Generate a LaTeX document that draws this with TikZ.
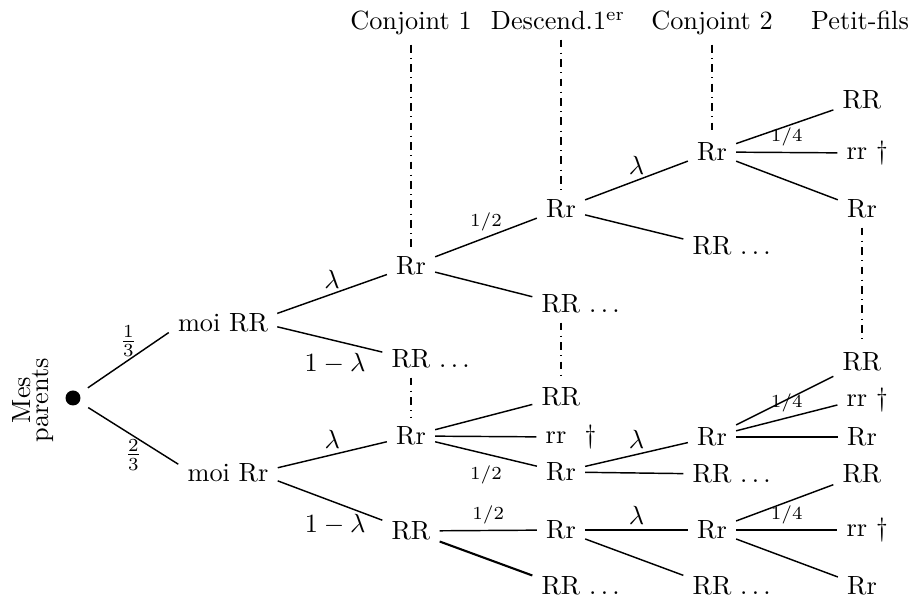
\documentclass[tikz,border=0pt]{standalone}
\begin{document}
\begin{tikzpicture}[x=0.38pt,y=-0.38pt,
  br/.style={draw,line width=0.55pt},
  thk/.style={draw,line width=0.8pt},
  dd/.style={draw,dashdotted,line width=0.5pt},
  lam/.style={inner sep=2pt},
  fr/.style={inner sep=2pt,font=\scriptsize},
  hd/.style={anchor=base}]
\useasboundingbox (0,0) rectangle (915,598);
% headers
\node[hd] (h1) at (411,30) {Conjoint 1};
\node[hd] (h2) at (558,30) {Descend.1$^{\rm er}$};
\node[hd] (h3) at (712,30) {Conjoint 2};
\node[hd] (h4) at (860,30) {Petit-fils};
% root
\node[rotate=90,align=center] (mp) at (33,400) {Mes\\[-5pt]parents};
\node[circle,fill,inner sep=0pt,minimum size=5.7pt,outer sep=4pt] (root) at (73,398) {};
% level 1
\node (m1) at (223,323) {moi RR};
\node (m2) at (228,473) {moi Rr};
% level 2
\node (a) at (411,266) {Rr};
\node (b) at (411,359) {RR\rlap{\ $\ldots$}};
\node (c) at (411,436) {Rr};
\node (d) at (411,531) {RR};
% level 3
\node (a1) at (561,209) {Rr};
\node (a2) at (561,304) {RR\rlap{\ $\ldots$}};
\node (c1) at (561,397) {RR};
\node (c2) at (556,437) {rr\rlap{\hspace{7pt}\dag}};
\node (c3) at (561,472) {Rr};
\node (d1) at (561,530) {Rr};
\node (d2) at (561,586) {RR\rlap{\ $\ldots$}};
% level 4
\node (a11) at (712,152) {Rr};
\node (a12) at (712,246) {RR\rlap{\ $\ldots$}};
\node (c31) at (712,437) {Rr};
\node (c32) at (712,474) {RR\rlap{\ $\ldots$}};
\node (d11) at (712,530) {Rr};
\node (d12) at (712,586) {RR\rlap{\ $\ldots$}};
% level 5
\node (a111) at (862,100) {RR};
\node (a112) at (857,153) {rr\rlap{\ \dag}};
\node (a113) at (862,209) {Rr};
\node (c311) at (862,362) {RR};
\node (c312) at (857,400) {rr\rlap{\ \dag}};
\node (c313) at (862,437) {Rr};
\node (d111) at (862,474) {RR};
\node (d112) at (857,530) {rr\rlap{\ \dag}};
\node (d113) at (862,586) {Rr};
% edges
\draw[br] (root) -- node[above,inner sep=1pt]{$\frac{1}{3}$} (m1.190);
\draw[br] (root) -- node[below,inner sep=1pt]{$\frac{2}{3}$} (m2.170);
\draw[br] (m1.10) -- node[lam,above]{$\lambda$} (a);
\draw[br] (m1.-4) -- node[pos=0.55,below=1pt]{$1-\lambda$} (b);
\draw[br] (m2.6) -- node[lam,above]{$\lambda$} (c);
\draw[br] (m2.-9) -- node[pos=0.55,below=1pt]{$1-\lambda$} (d);
\draw[br] (a) -- node[fr,above]{$1/2$} (a1);
\draw[br] (a) -- (a2);
\draw[br] (a1) -- node[lam,above]{$\lambda$} (a11);
\draw[br] (a1) -- (a12);
\draw[br] (a11) -- (a111);
\draw[br] (a11) -- node[fr,above]{$1/4$} (a112);
\draw[br] (a11) -- (a113);
\draw[br] (c) -- (c1);
\draw[br] (c) -- (c2);
\draw[br] (c) -- node[fr,below=2pt]{$1/2$} (c3);
\draw[br] (c3) -- node[lam,above]{$\lambda$} (c31);
\draw[br] (c3) -- (c32);
\draw[br] (c31) -- (c311);
\draw[br] (c31) -- node[fr,above]{$1/4$} (c312);
\draw[br] (c31) -- (c313);
\draw[br] (d) -- node[fr,above]{$1/2$} (d1);
\draw[thk] (d) -- (d2);
\draw[br] (d1) -- node[lam,above]{$\lambda$} (d11);
\draw[br] (d1) -- (d12);
\draw[br] (d11) -- (d111);
\draw[br] (d11) -- node[fr,above]{$1/4$} (d112);
\draw[br] (d11) -- (d113);
% dash-dot guides
\draw[dd] (h1.south -| a) -- (a);
\draw[dd] (b) -- (c);
\draw[dd] (h2.south -| a1) -- (a1);
\draw[dd] (a2) -- (c1);
\draw[dd] (h3.south -| a11) -- (a11);
\draw[dd] (a113) -- (c311);
\end{tikzpicture}
\end{document}
